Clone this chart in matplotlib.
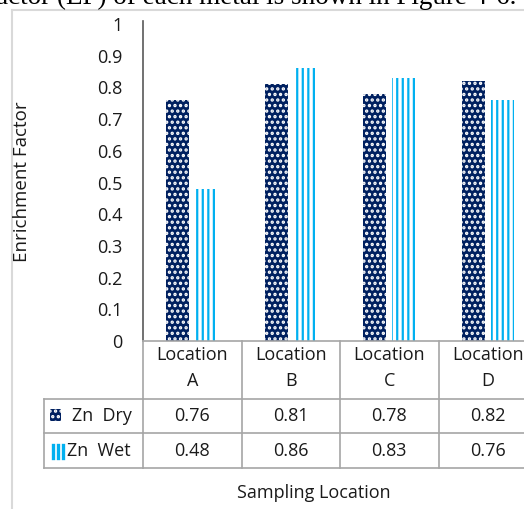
import numpy as np
import matplotlib
matplotlib.use("Agg")
import matplotlib.pyplot as plt
from matplotlib.patches import Rectangle
from matplotlib.lines import Line2D
from matplotlib.transforms import blended_transform_factory

# ---------------- data ----------------
categories = ['Location\nA', 'Location\nB', 'Location\nC', 'Location\nD']
series_names = ['Zn  Dry', 'Zn  Wet']
zn_dry = [0.76, 0.81, 0.78, 0.82]
zn_wet = [0.48, 0.86, 0.83, 0.76]
y_ticks = [0, 0.1, 0.2, 0.3, 0.4, 0.5, 0.6, 0.7, 0.8, 0.9, 1]

W, H = 524, 509
DRY_COLOR = '#002060'
WET_COLOR = '#00B0F0'
TEXT_COLOR = '#1a1a1a'
GRID_COLOR = '#A6A6A6'
FS = 13

plt.rcParams['font.family'] = ['Open Sans', 'DejaVu Sans']
plt.rcParams['hatch.linewidth'] = 1.6


def fx(px):
    return px / W


def fy(py):
    return 1 - py / H


fig = plt.figure(figsize=(W / 100, H / 100), dpi=100)

# outer chart frame (light gray) and the cropped sentence above it
fig.add_artist(Line2D([fx(12), fx(12)], [fy(10), fy(509)], color='#D9D9D9', lw=1.5))
fig.add_artist(Line2D([fx(12), fx(524)], [fy(10), fy(10)], color='#D9D9D9', lw=1.5))
fig.text(fx(516), fy(4), 'actor (EF) of each metal is shown in Figure 4-6.',
         ha='right', va='baseline', fontsize=19.5, family='Liberation Serif', color='black')

# plot area: 0 -> y=341px, 1 -> y=24px ; columns 98.5px wide starting at x=143
ax = fig.add_axes([fx(143), fy(341), 4 * 98.5 / W, (341 - 24) / H])
x = np.arange(len(categories))
off, bw = 0.147, 0.23
ax.bar(x - off, zn_dry, bw, color=DRY_COLOR, edgecolor='white', linewidth=0, hatch='...')
ax.bar(x + off, zn_wet, bw, color='white', edgecolor=WET_COLOR, linewidth=0, hatch='|||')

ax.set_xlim(-0.5, len(categories) - 0.5)
ax.set_ylim(0, 1)
ax.set_yticks(y_ticks)
ax.set_yticklabels([f'{t:g}' for t in y_ticks])
ax.set_xticks([])
ax.tick_params(axis='y', length=0, pad=15, labelsize=FS, labelcolor=TEXT_COLOR)
for s in ['top', 'right', 'bottom']:
    ax.spines[s].set_visible(False)
ax.spines['left'].set_color('#595959')
ax.spines['left'].set_linewidth(1.2)
ax.spines['left'].set_bounds(0, 1.01)
fig.text(fx(22), fy(182), 'Enrichment Factor', rotation=90, ha='center', va='center',
         fontsize=FS + 0.5, color=TEXT_COLOR)

# data table under the plot
tr = blended_transform_factory(ax.transData, fig.transFigure)
n = len(categories)
row_y = [341, 399, 433, 468]


def tline(xs, ys, transform):
    fig.add_artist(Line2D(xs, ys, color=GRID_COLOR, lw=1.2, transform=transform, clip_on=False))


tline([-0.5, n - 0.5], [fy(341), fy(341)], tr)
for ry in row_y[1:]:
    tline([fx(44), fx(143)], [fy(ry), fy(ry)], fig.transFigure)
    tline([-0.5, n - 0.5], [fy(ry), fy(ry)], tr)
for i in range(n + 1):
    tline([i - 0.5, i - 0.5], [fy(341), fy(468)], tr)
tline([fx(44), fx(44)], [fy(399), fy(468)], fig.transFigure)

for i, cat in enumerate(categories):
    top, bottom = cat.split('\n')
    fig.text(i, fy(355), top, transform=tr, ha='center', va='center', fontsize=FS, color=TEXT_COLOR)
    fig.text(i, fy(381), bottom, transform=tr, ha='center', va='center', fontsize=FS, color=TEXT_COLOR)
    fig.text(i, fy(416), f'{zn_dry[i]:.2f}', transform=tr, ha='center', va='center',
             fontsize=FS, color=TEXT_COLOR)
    fig.text(i, fy(451), f'{zn_wet[i]:.2f}', transform=tr, ha='center', va='center',
             fontsize=FS, color=TEXT_COLOR)

# row labels with legend keys
fig.add_artist(Rectangle((fx(50), fy(421)), fx(11), 12 / H, facecolor=DRY_COLOR,
                         edgecolor='white', linewidth=0, hatch='...'))
fig.text(fx(72), fy(416), series_names[0], ha='left', va='center', fontsize=FS, color=TEXT_COLOR)
# wet key: three vertical stripes
for sx in (52.5, 57.5, 62.5):
    fig.add_artist(Line2D([fx(sx), fx(sx)], [fy(445), fy(458)], color=WET_COLOR, lw=2.4))
fig.text(fx(67), fy(451), series_names[1], ha='left', va='center', fontsize=FS, color=TEXT_COLOR)

fig.text(fx(314), fy(493), 'Sampling Location', ha='center', va='center', fontsize=FS,
         color=TEXT_COLOR)

fig.savefig('out.png', dpi=100)
